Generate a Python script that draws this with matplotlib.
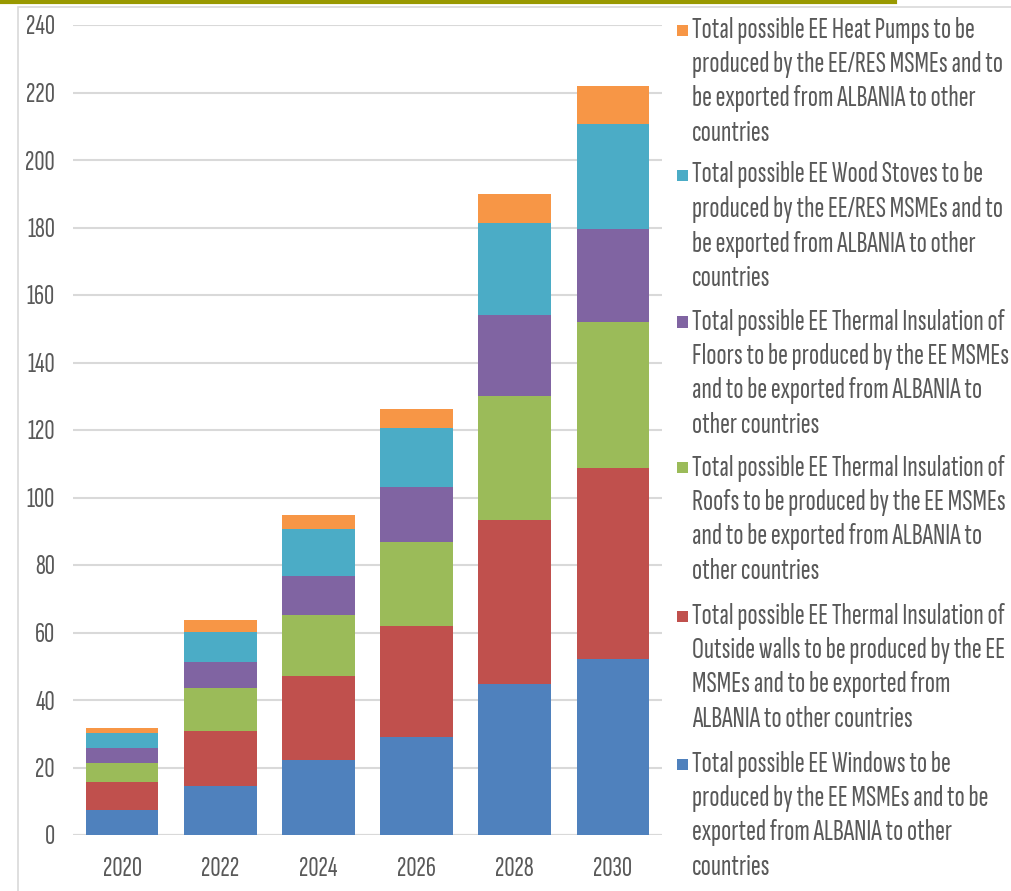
import matplotlib
matplotlib.use("Agg")
import matplotlib.pyplot as plt
from matplotlib.patches import Rectangle
from matplotlib.lines import Line2D
import numpy as np

years = ["2020", "2022", "2024", "2026", "2028", "2030"]
windows = [7.5, 14.6, 22.2, 29.0, 44.8, 52.1]
outside_walls = [8.1, 16.2, 24.8, 33.0, 48.6, 56.6]
roofs = [5.7, 12.7, 18.3, 24.9, 36.6, 43.3]
floors = [4.4, 7.9, 11.5, 16.1, 24.2, 27.7]
wood_stoves = [4.5, 8.8, 13.9, 17.6, 27.1, 31.1]
heat_pumps = [1.4, 3.5, 4.2, 5.7, 8.5, 11.2]

series = [windows, outside_walls, roofs, floors, wood_stoves, heat_pumps]
colors = ["#4F81BD", "#C0504D", "#9BBB59", "#8064A2", "#4BACC6", "#F79646"]
labels = [
    "Total possible EE Windows to be\nproduced by the EE MSMEs and to be\nexported from ALBANIA to other\ncountries",
    "Total possible EE Thermal Insulation of\nOutside walls to be produced by the EE\nMSMEs and to be exported from\nALBANIA to other countries",
    "Total possible EE Thermal Insulation of\nRoofs to be produced by the EE MSMEs\nand to be exported from ALBANIA to\nother countries",
    "Total possible EE Thermal Insulation of\nFloors to be produced by the EE MSMEs\nand to be exported from ALBANIA to\nother countries",
    "Total possible EE Wood Stoves to be\nproduced by the EE/RES MSMEs and to\nbe exported from ALBANIA to other\ncountries",
    "Total possible EE Heat Pumps to be\nproduced by the EE/RES MSMEs and to\nbe exported from ALBANIA to other\ncountries",
]
yticks = [0, 20, 40, 60, 80, 100, 120, 140, 160, 180, 200, 220, 240]

W, H = 1011, 891
fig = plt.figure(figsize=(W / 100, H / 100), dpi=100)
FONT = ["Sofia Sans Extra Condensed", "Sofia Sans Condensed", "DejaVu Sans"]
TXT = "#595959"
renderer = fig.canvas.get_renderer()


def fit_size(s, target_px, base=20):
    t = fig.text(0, 0, s, family=FONT, fontsize=base)
    w = t.get_window_extent(renderer).width
    t.remove()
    return base * target_px / w


# frame and top olive line
fig.add_artist(Rectangle((18 / W, -0.01), 1.2, 1 - 7 / H + 0.01, transform=fig.transFigure,
                         fill=False, edgecolor="#D9D9D9", linewidth=1.2))
fig.add_artist(Line2D([0, 895 / W], [1 - 1.5 / H, 1 - 1.5 / H], transform=fig.transFigure,
                      color="#999900", linewidth=3))

ax = fig.add_axes([73 / W, 1 - 835 / H, (662 - 73) / W, (835 - 25) / H])
x = np.arange(len(years))
bottom = np.zeros(len(years))
for vals, c in zip(series, colors):
    ax.bar(x, vals, width=0.74, bottom=bottom, color=c, zorder=3)
    bottom += np.array(vals)

ytick_fs = fit_size("240", 29)
xtick_fs = fit_size("2020", 39)
ax.set_xlim(-0.5, len(years) - 0.5)
ax.set_ylim(0, 240)
ax.set_yticks(yticks)
ax.set_yticklabels([str(t) for t in yticks], family=FONT, fontsize=ytick_fs, color=TXT)
ax.set_xticks(x)
ax.set_xticklabels(years, family=FONT, fontsize=xtick_fs, color=TXT)
ax.tick_params(axis="both", length=0)
ax.tick_params(axis="y", pad=13)
ax.tick_params(axis="x", pad=16)
ax.grid(axis="y", color="#D9D9D9", linewidth=1.5, zorder=0)
for s in ax.spines.values():
    s.set_visible(False)
ax.axhline(0, color="#D9D9D9", linewidth=1.5, zorder=1)

# legend (top = heat pumps), one text per line
leg_fs = fit_size("produced by the EE/RES MSMEs and to", 311)
entry_starts = [30, 175, 322, 468, 616, 764]
line_step = 34.5
for i, y0 in enumerate(entry_starts):
    idx = len(series) - 1 - i
    fig.add_artist(Rectangle((677 / W, 1 - (y0 + 5.5) / H), 11 / W, 11 / H,
                             transform=fig.transFigure, facecolor=colors[idx], edgecolor="none"))
    for j, line in enumerate(labels[idx].split("\n")):
        fig.text(692 / W, 1 - (y0 + j * line_step) / H, line, family=FONT, fontsize=leg_fs,
                 color=TXT, va="center", ha="left")

fig.savefig("out.png", dpi=100)
